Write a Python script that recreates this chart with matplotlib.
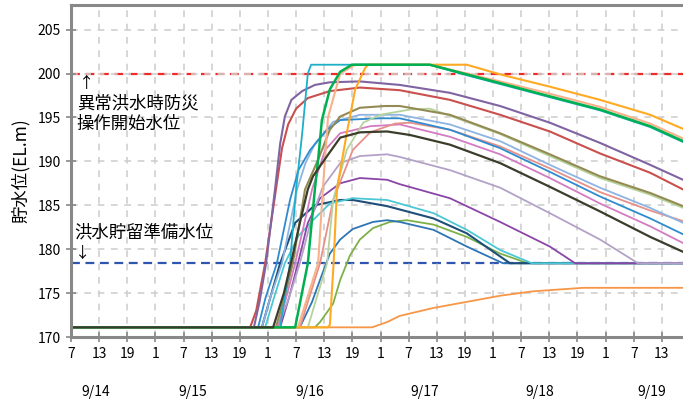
import matplotlib
matplotlib.use("Agg")
import matplotlib.pyplot as plt
from matplotlib.transforms import blended_transform_factory

plt.rcParams['font.family'] = ['Noto Sans CJK JP', 'DejaVu Sans']

# =====================
# 1. データ (時間 = 9/14 7:00 からの経過時間)
# =====================
BASE = 171.1
END_H = 130.5

red_t = [0, 38.2, 39.5, 41.4, 43.7, 45.0, 46.3, 48.0, 50.5, 55.2, 61.6, 70.1, 80.8, 91.5, 102.1, 112.8, 123.5, 130.5]
red_v = [BASE, BASE, 173.0, 178.4, 186.8, 191.5, 194.2, 196.0, 197.2, 198.0, 198.4, 198.1, 197.0, 195.3, 193.4, 190.9, 188.7, 186.8]

purple_t = [0, 39.0, 40.2, 41.6, 43.5, 44.6, 45.6, 47.0, 49.3, 52.0, 55.2, 61.6, 70.1, 80.8, 91.5, 102.1, 112.8, 123.5, 130.5]
purple_v = [BASE, BASE, 174.0, 178.4, 186.8, 192.0, 195.1, 197.0, 198.0, 198.7, 199.0, 199.1, 198.7, 197.8, 196.3, 194.4, 192.1, 189.6, 187.9]

blue_t = [0, 39.9, 41.5, 43.9, 46.7, 48.5, 51.0, 54.6, 57.4, 65.9, 70.1, 80.8, 91.5, 102.1, 112.8, 123.5, 130.5]
blue_v = [BASE, BASE, 174.5, 178.4, 185.6, 189.0, 191.3, 193.6, 194.7, 194.9, 194.9, 193.6, 191.5, 188.8, 186.0, 183.5, 181.7]

lightblue_t = [0, 40.7, 42.5, 45.0, 48.2, 50.0, 52.0, 55.9, 61.6, 70.1, 80.8, 91.5, 102.1, 112.8, 123.5, 130.5]
lightblue_v = [BASE, BASE, 174.5, 178.4, 186.8, 189.8, 192.0, 194.5, 195.3, 195.3, 194.2, 192.3, 189.6, 187.0, 184.7, 183.0]

navy_t = [0, 40.7, 42.5, 44.6, 47.8, 52.0, 57.4, 60.1, 67.4, 77.3, 84.4, 93.6, END_H]
navy_v = [BASE, BASE, 174.5, 178.4, 183.0, 185.0, 185.6, 185.6, 184.9, 183.5, 181.8, 178.4, 178.4]

lightcyan_t = [0, 41.4, 43.3, 45.6, 48.5, 51.6, 55.2, 60.1, 67.4, 77.3, 84.4, 91.5, 98.3, END_H]
lightcyan_v = [BASE, BASE, 174.5, 178.4, 181.5, 183.3, 185.2, 185.8, 185.6, 184.1, 182.2, 179.9, 178.4, 178.4]

teal_t = [0, 44.6, 46.7, 48.0, 49.3, 50.5, 51.2, 76.5, 84.4, 91.5, 102.1, 112.8, 123.5, 130.5]
teal_v = [BASE, BASE, 178.4, 186.8, 193.2, 200.0, 201.0, 201.0, 199.8, 198.8, 197.3, 195.8, 193.9, 192.2]

black_t = [0, 43.1, 45.4, 46.9, 48.8, 50.5, 51.6, 54.6, 57.4, 61.6, 67.4, 72.3, 80.8, 91.5, 102.1, 112.8, 123.5, 130.5]
black_v = [BASE, BASE, 175.0, 178.4, 183.0, 186.8, 188.3, 190.6, 192.7, 193.3, 193.4, 193.0, 191.9, 189.8, 187.1, 184.3, 181.4, 179.7]

olive_t = [0, 43.7, 45.5, 47.3, 49.9, 52.7, 55.2, 57.4, 61.6, 67.0, 70.1, 80.8, 91.5, 102.1, 112.8, 123.5, 130.5]
olive_v = [BASE, BASE, 174.5, 178.4, 186.8, 190.2, 193.6, 195.1, 196.1, 196.3, 196.3, 195.3, 193.2, 190.8, 188.3, 186.4, 184.9]

pink_t = [0, 44.1, 45.9, 47.8, 51.4, 54.2, 57.4, 63.8, 70.1, 80.8, 91.5, 102.1, 112.8, 123.5, 130.5]
pink_v = [BASE, BASE, 174.5, 178.4, 186.8, 191.3, 193.2, 194.0, 194.2, 192.8, 190.8, 188.1, 185.2, 182.6, 180.7]

lavender_t = [0, 44.1, 46.5, 48.8, 51.6, 53.7, 57.4, 61.6, 67.4, 70.1, 80.8, 91.5, 102.1, 112.8, 120.9, END_H]
lavender_v = [BASE, BASE, 174.5, 178.4, 184.1, 187.1, 189.8, 190.6, 190.8, 190.5, 189.0, 187.0, 184.1, 181.1, 178.4, 178.4]

violet_t = [0, 44.6, 46.5, 48.4, 50.5, 53.1, 57.4, 61.6, 67.4, 70.1, 80.8, 91.5, 102.1, 107.5, END_H]
violet_v = [BASE, BASE, 174.5, 178.4, 183.0, 185.8, 187.5, 188.1, 187.9, 187.4, 185.8, 183.1, 180.3, 178.4, 178.4]

green_t = [0, 47.8, 50.5, 52.0, 52.7, 53.5, 55.2, 57.4, 59.9, 76.5, 84.4, 91.5, 102.1, 112.8, 123.5, 130.5]
green_v = [BASE, BASE, 178.4, 186.8, 190.2, 194.7, 198.2, 200.2, 201.0, 201.0, 199.9, 198.9, 197.4, 195.9, 194.0, 192.3]

salmon_t = [0, 48.4, 52.7, 53.7, 54.8, 57.4, 60.6, 76.5, 84.4, 91.5, 102.1, 112.8, 123.5, 130.5]
salmon_v = [BASE, BASE, 178.4, 186.8, 195.0, 200.0, 201.0, 201.0, 200.0, 199.1, 197.7, 196.2, 194.3, 192.6]

salmonpink_t = [0, 48.8, 53.1, 55.9, 60.1, 63.8, 69.1, 72.3, 80.8, 91.5, 102.1, 112.8, 123.5, 130.5]
salmonpink_v = [BASE, BASE, 178.4, 185.6, 191.3, 193.3, 194.3, 194.4, 193.6, 191.7, 189.2, 186.5, 184.4, 183.2]

lightgreen_t = [0, 50.5, 54.6, 55.9, 58.8, 62.3, 65.9, 72.3, 76.5, 80.8, 91.5, 102.1, 112.8, 123.5, 130.5]
lightgreen_v = [BASE, BASE, 178.4, 185.6, 191.3, 194.4, 195.3, 195.9, 196.0, 195.2, 193.1, 190.6, 188.1, 186.2, 184.7]

gold_t = [0, 54.8, 55.2, 56.0, 56.7, 58.8, 60.6, 62.7, 63.3, 84.4, 91.5, 102.1, 112.8, 123.5, 130.5]
gold_v = [BASE, BASE, 171.4, 178.4, 186.8, 193.2, 198.2, 200.6, 201.0, 201.0, 199.9, 198.5, 197.0, 195.3, 193.7]

midblue_t = [0, 48.8, 51.4, 53.1, 55.2, 57.4, 60.1, 64.4, 67.4, 70.1, 77.3, 84.4, 92.1, END_H]
midblue_v = [BASE, BASE, 174.0, 176.5, 179.5, 181.1, 182.3, 183.1, 183.3, 183.1, 182.2, 180.3, 178.4, 178.4]

midgreen_t = [0, 52.0, 53.1, 55.9, 57.4, 59.5, 61.6, 64.4, 68.0, 71.6, 77.3, 84.4, 91.5, 97.4, END_H]
midgreen_v = [BASE, BASE, 171.7, 173.8, 176.5, 179.3, 181.1, 182.4, 183.1, 183.3, 182.8, 181.4, 179.5, 178.4, 178.4]

orange_t = [0, 64.2, 67.4, 70.1, 77.2, 84.4, 91.5, 98.5, 109.2, END_H]
orange_v = [BASE, BASE, 171.7, 172.4, 173.3, 174.0, 174.7, 175.2, 175.6, 175.6]

hour_labels = ['7', '13', '19', '1']
date_labels = ['9/14', '9/15', '9/16', '9/17', '9/18', '9/19']
date_pos = [5.3, 26.0, 51.0, 75.5, 100.0, 123.9]

flood_ctrl_level = 200.0
flood_prep_level = 178.4

# =====================
# 2. 描画
# =====================
fig = plt.figure(figsize=(6.83, 4.0), dpi=100)
ax = fig.add_axes([71 / 683, 63 / 400, 612 / 683, 332 / 400])

ax.axhline(flood_ctrl_level, color='#EE2B2B', linestyle=(0, (4, 2.5)), linewidth=1.6, zorder=1)
ax.axhline(flood_prep_level, color='#2E56B0', linestyle=(0, (4, 2.5)), linewidth=1.6, zorder=1)

series = [
    (orange_t, orange_v, '#F79646', 1.3),
    (midgreen_t, midgreen_v, '#7DB148', 1.3),
    (midblue_t, midblue_v, '#2E75B6', 1.3),
    (navy_t, navy_v, '#1F4E79', 1.5),
    (lightcyan_t, lightcyan_v, '#4BC8D6', 1.3),
    (violet_t, violet_v, '#8B45A6', 1.3),
    (lavender_t, lavender_v, '#B3A2C7', 1.3),
    (pink_t, pink_v, '#D47BC2', 1.3),
    (salmonpink_t, salmonpink_v, '#E6908A', 1.3),
    (lightblue_t, lightblue_v, '#8DB4E2', 1.3),
    (blue_t, blue_v, '#2E8BD0', 1.3),
    (lightgreen_t, lightgreen_v, '#B5D39A', 1.3),
    (olive_t, olive_v, '#948A54', 1.5),
    (red_t, red_v, '#C9504D', 1.5),
    (purple_t, purple_v, '#8064A2', 1.5),
    (salmon_t, salmon_v, '#F8B18A', 1.5),
    (teal_t, teal_v, '#1EAFC8', 1.3),
    (gold_t, gold_v, '#FFAA22', 1.5),
    (green_t, green_v, '#00B050', 1.8),
    (black_t, black_v, '#3A3D2A', 1.6),
]
for t, v, c, lw in series:
    ax.plot(t, v, color=c, linewidth=lw, zorder=2)

# =====================
# 3. 軸・目盛
# =====================
ax.set_xlim(0, END_H)
ax.set_ylim(170, 207.8)
xticks = list(range(0, 127, 6))
ax.set_xticks(xticks)
ax.set_xticklabels([hour_labels[i % 4] for i in range(len(xticks))], fontsize=10)
ax.set_yticks(range(170, 206, 5))
ax.set_yticklabels([str(y) for y in range(170, 206, 5)], fontsize=10)
ax.tick_params(axis='both', direction='inout', length=7, width=1.2, color='#888888', pad=4)
ax.grid(True, color='#D0D0D0', linestyle=(0, (4, 4)), linewidth=1.2, zorder=0)

for side in ['left', 'bottom', 'top']:
    ax.spines[side].set_color('#888888')
    ax.spines[side].set_linewidth(2.2)
ax.spines['right'].set_visible(False)

ax.set_ylabel('貯水位(EL.m)', fontsize=12.5, labelpad=5)

trans = blended_transform_factory(ax.transData, ax.transAxes)
for lbl, pos in zip(date_labels, date_pos):
    ax.text(pos, -0.166, lbl, transform=trans, ha='center', va='center', fontsize=10)

# =====================
# 4. 注記
# =====================
ax.text(3.4, 198.9, '↑', fontsize=11, ha='center', va='center')
ax.text(1.2, 195.4, '異常洪水時防災\n操作開始水位', fontsize=12.5, ha='left', va='center',
        linespacing=1.2)
ax.text(0.8, 181.9, '洪水貯留準備水位', fontsize=12.5, ha='left', va='center')
ax.text(2.5, 179.5, '↓', fontsize=11, ha='center', va='center')

fig.savefig('out.png', dpi=100)
